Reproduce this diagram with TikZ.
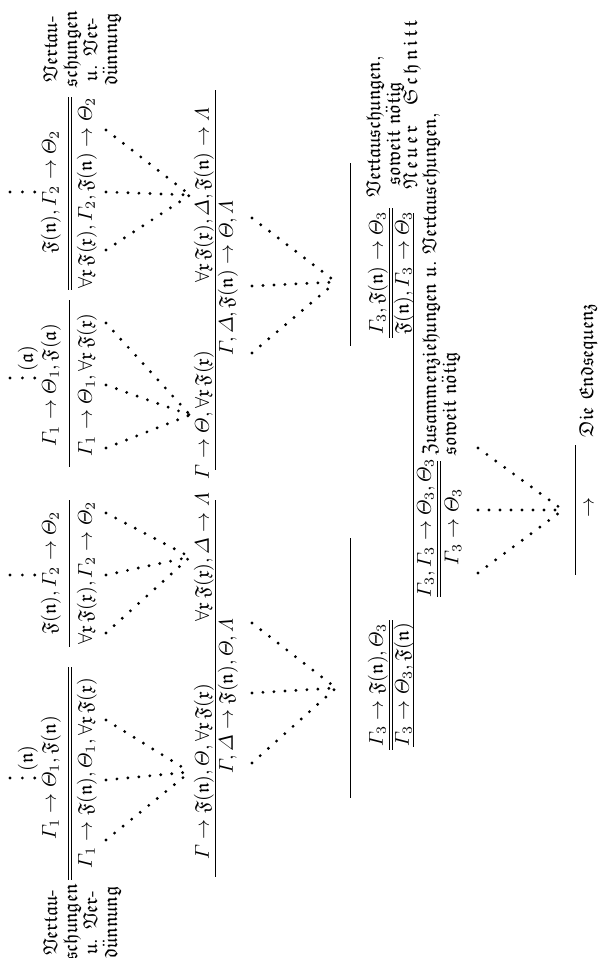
\documentclass[tikz,border=0pt]{standalone}
\usepackage{amsmath,amssymb}
\newcommand\fk[1]{\ensuremath{\mathfrak{#1}}}
\begin{document}
\begin{tikzpicture}[x=0.5pt,y=0.5pt,rotate=90,transform shape]
% Styles
\tikzstyle{formule}=[inner sep=0pt,font=\fontsize{10}{12}\selectfont]
\tikzstyle{remarque}=[inner sep=0pt,align=center,font=\fontsize{10}{10}\selectfont]
\tikzstyle{trait}=[line width=0.5pt]
\tikzstyle{traitdouble}=[line width=0.45pt,double,double distance=1.4pt]
\tikzstyle{points}=[line width=1.6pt,line cap=round,dash pattern=on 0pt off 5.5pt]
\tikzstyle{pointsv}=[line width=1.6pt,line cap=round,dash pattern=on 0pt off 6.2pt]
% Rahmen
\useasboundingbox (0,0) rectangle (958,598);
% Niveaux
\def\NiveauA{547}
\def\TraitA{528}
\def\NiveauB{511}
\def\PointsA{492}
\def\PointsB{408}
\def\NiveauC{394}
\def\TraitC{382}
\def\NiveauD{370}
\def\PointsC{346}
\def\PointsD{262}
\def\TraitE{247}
\def\NiveauE{220}
\def\TraitF{207}
\def\NiveauF{194}
\def\TraitG{184}
\def\NiveauG{172}
\def\TraitH{159}
\def\NiveauH{145}
\def\PointsE{120}
\def\PointsF{35}
\def\TraitI{23}
\def\NiveauI{8}
% Obere Sequenzen
\node[formule] (Aa) at (180,\NiveauA) {$\varGamma_1\rightarrow\varTheta_1,\mathfrak{F}(\mathfrak{n})$};
\node[formule] (Ab) at (185,\NiveauB) {$\varGamma_1\rightarrow\mathfrak{F}(\mathfrak{n}),\varTheta_1,\forall\mathfrak{x}\,\mathfrak{F}(\mathfrak{x})$};
\node[formule] (Ba) at (385,\NiveauA) {$\mathfrak{F}(\mathfrak{n}),\varGamma_2\rightarrow\varTheta_2$};
\node[formule] (Bb) at (385,\NiveauB) {$\forall\mathfrak{x}\,\mathfrak{F}(\mathfrak{x}),\varGamma_2\rightarrow\varTheta_2$};
\node[formule] (Ca) at (573,\NiveauA) {$\varGamma_1\rightarrow\varTheta_1,\mathfrak{F}(\mathfrak{a})$};
\node[formule] (Cb) at (573,\NiveauB) {$\varGamma_1\rightarrow\varTheta_1,\forall\mathfrak{x}\,\mathfrak{F}(\mathfrak{x})$};
\node[formule] (Da) at (766,\NiveauA) {$\mathfrak{F}(\mathfrak{n}),\varGamma_2\rightarrow\varTheta_2$};
\node[formule] (Db) at (765,\NiveauB) {$\forall\mathfrak{x}\,\mathfrak{F}(\mathfrak{x}),\varGamma_2,\mathfrak{F}(\mathfrak{n})\rightarrow\varTheta_2$};
\node[formule,anchor=west] (An) at (186,570) {$(\mathfrak{n})$};
\node[formule,anchor=west] (Cn) at (586,570) {$(\mathfrak{a})$};
\node[remarque,anchor=east] (VertA) at (74,516) {\fk{Vertau}-\\\fk{schungen}\\\fk{u}. \fk{Ver}-\\\fk{d\ddot{u}nnung}};
\node[remarque,anchor=west] (VertD) at (870,516) {\fk{Vertau}-\\\fk{schungen}\\\fk{u}. \fk{Ver}-\\\fk{d\ddot{u}nnung}};
% Schnitte
\node[formule] (Ea) at (186,\NiveauC) {$\varGamma\rightarrow\mathfrak{F}(\mathfrak{n}),\varTheta,\forall\mathfrak{x}\,\mathfrak{F}(\mathfrak{x})$};
\node[formule] (Eb) at (401,\NiveauC) {$\forall\mathfrak{x}\,\mathfrak{F}(\mathfrak{x}),\varDelta\rightarrow\varLambda$};
\node[formule] (Ec) at (262,\NiveauD) {$\varGamma,\varDelta\rightarrow\mathfrak{F}(\mathfrak{n}),\varTheta,\varLambda$};
\node[formule] (Fa) at (543,\NiveauC) {$\varGamma\rightarrow\varTheta,\forall\mathfrak{x}\,\mathfrak{F}(\mathfrak{x})$};
\node[formule] (Fb) at (763,\NiveauC) {$\forall\mathfrak{x}\,\mathfrak{F}(\mathfrak{x}),\varDelta,\mathfrak{F}(\mathfrak{n})\rightarrow\varLambda$};
\node[formule] (Fc) at (680,\NiveauD) {$\varGamma,\varDelta,\mathfrak{F}(\mathfrak{n})\rightarrow\varTheta,\varLambda$};
% Neuer Schnitt
\node[formule] (Ga) at (273,\NiveauE) {$\varGamma_3\rightarrow\mathfrak{F}(\mathfrak{n}),\varTheta_3$};
\node[formule] (Gb) at (273,\NiveauF) {$\varGamma_3\rightarrow\varTheta_3,\mathfrak{F}(\mathfrak{n})$};
\node[formule] (Ha) at (685,\NiveauE) {$\varGamma_3,\mathfrak{F}(\mathfrak{n})\rightarrow\varTheta_3$};
\node[formule] (Hb) at (685,\NiveauF) {$\mathfrak{F}(\mathfrak{n}),\varGamma_3\rightarrow\varTheta_3$};
\node[formule] (Ia) at (430,\NiveauG) {$\varGamma_3,\varGamma_3\rightarrow\varTheta_3,\varTheta_3$};
\node[formule] (Ib) at (431,\NiveauH) {$\varGamma_3\rightarrow\varTheta_3$};
\node[formule] (J) at (450,\NiveauI) {$\rightarrow$};
\node[remarque,anchor=west,align=left] (VertH) at (760,213) {\fk{Vertauschungen},\\\hspace*{0.6em}\fk{soweit}\ \fk{n\ddot{o}tig}};
\node[remarque,anchor=west] (Schnitt) at (768,186) {\fk{N\,e\,u\,e\,r}\quad\fk{S\,c\,h\,n\,i\,t\,t}};
\node[remarque,anchor=west,align=left] (Zus) at (502,157) {\fk{Zusammenziehungen}\ \fk{u}.\ \fk{Vertauschungen},\\\fk{soweit}\ \fk{n\ddot{o}tig}};
\node[remarque,anchor=west] (Endseq) at (520,10) {\fk{Die}\ \fk{Endsequenz}};
% Striche
\coordinate (Ag) at (78,\TraitA);  \coordinate (Ad) at (291,\TraitA);
\coordinate (Bg) at (311,\TraitA); \coordinate (Bd) at (458,\TraitA);
\coordinate (Cg) at (491,\TraitA); \coordinate (Cd) at (658,\TraitA);
\coordinate (Dg) at (668,\TraitA); \coordinate (Dd) at (861,\TraitA);
\coordinate (Eg) at (81,\TraitC);  \coordinate (Ed) at (458,\TraitC);
\coordinate (Fg) at (488,\TraitC); \coordinate (Fd) at (868,\TraitC);
\coordinate (Gg) at (160,\TraitE); \coordinate (Gd) at (420,\TraitE);
\coordinate (Hg) at (612,\TraitE); \coordinate (Hd) at (795,\TraitE);
\coordinate (Gdg) at (208,\TraitF); \coordinate (Gdd) at (338,\TraitF);
\coordinate (Hdg) at (620,\TraitF); \coordinate (Hdd) at (750,\TraitF);
\coordinate (Ig) at (211,\TraitG); \coordinate (Id) at (745,\TraitG);
\coordinate (Idg) at (361,\TraitH); \coordinate (Idd) at (497,\TraitH);
\coordinate (Jg) at (383,\TraitI); \coordinate (Jd) at (513,\TraitI);
\draw[traitdouble] (Ag)--(Ad);
\draw[trait] (Bg)--(Bd);
\draw[trait] (Cg)--(Cd);
\draw[traitdouble] (Dg)--(Dd);
\draw[trait] (Eg)--(Ed);
\draw[trait] (Fg)--(Fd);
\draw[trait] (Gg)--(Gd);
\draw[trait] (Hg)--(Hd);
\draw[traitdouble] (Gdg)--(Gdd);
\draw[traitdouble] (Hdg)--(Hdd);
\draw[trait] (Ig)--(Id);
\draw[traitdouble] (Idg)--(Idd);
\draw[trait] (Jg)--(Jd);
% Punkte oben
\coordinate (Ah) at (180,588); \coordinate (Ahb) at (180,563);
\coordinate (Bh) at (383,588); \coordinate (Bhb) at (383,563);
\coordinate (Ch) at (580,588); \coordinate (Chb) at (580,563);
\coordinate (Dh) at (766,588); \coordinate (Dhb) at (766,563);
\draw[pointsv] (Ah)--(Ahb);
\draw[pointsv] (Bh)--(Bhb);
\draw[pointsv] (Ch)--(Chb);
\draw[pointsv] (Dh)--(Dhb);
% Punktierte Herleitungen
\coordinate (Apg) at (118,\PointsA); \coordinate (Apm) at (178,\PointsA); \coordinate (Apd) at (238,\PointsA); \coordinate (Aps) at (186,\PointsB);
\coordinate (Bpg) at (325,\PointsA); \coordinate (Bpm) at (383,\PointsA); \coordinate (Bpd) at (445,\PointsA); \coordinate (Bps) at (401,\PointsB);
\coordinate (Cpg) at (510,\PointsA); \coordinate (Cpm) at (573,\PointsA); \coordinate (Cpd) at (635,\PointsA); \coordinate (Cps) at (543,\PointsB);
\coordinate (Dpg) at (708,\PointsA); \coordinate (Dpm) at (766,\PointsA); \coordinate (Dpd) at (828,\PointsA); \coordinate (Dps) at (763,\PointsB);
\coordinate (Epg) at (195,\PointsC); \coordinate (Epm) at (265,\PointsC); \coordinate (Epd) at (335,\PointsC); \coordinate (Eps) at (270,\PointsD);
\coordinate (Fpg) at (605,\PointsC); \coordinate (Fpm) at (672,\PointsC); \coordinate (Fpd) at (740,\PointsC); \coordinate (Fps) at (676,\PointsD);
\coordinate (Ipg) at (385,\PointsE); \coordinate (Ipm) at (448,\PointsE); \coordinate (Ipd) at (510,\PointsE); \coordinate (Ips) at (448,\PointsF);
\draw[points] (Apg)--(Aps); \draw[points] (Apm)--(Aps); \draw[points] (Apd)--(Aps);
\draw[points] (Bpg)--(Bps); \draw[points] (Bpm)--(Bps); \draw[points] (Bpd)--(Bps);
\draw[points] (Cpg)--(Cps); \draw[points] (Cpm)--(Cps); \draw[points] (Cpd)--(Cps);
\draw[points] (Dpg)--(Dps); \draw[points] (Dpm)--(Dps); \draw[points] (Dpd)--(Dps);
\draw[points] (Epg)--(Eps); \draw[points] (Epm)--(Eps); \draw[points] (Epd)--(Eps);
\draw[points] (Fpg)--(Fps); \draw[points] (Fpm)--(Fps); \draw[points] (Fpd)--(Fps);
\draw[points] (Ipg)--(Ips); \draw[points] (Ipm)--(Ips); \draw[points] (Ipd)--(Ips);
\end{tikzpicture}
\end{document}
